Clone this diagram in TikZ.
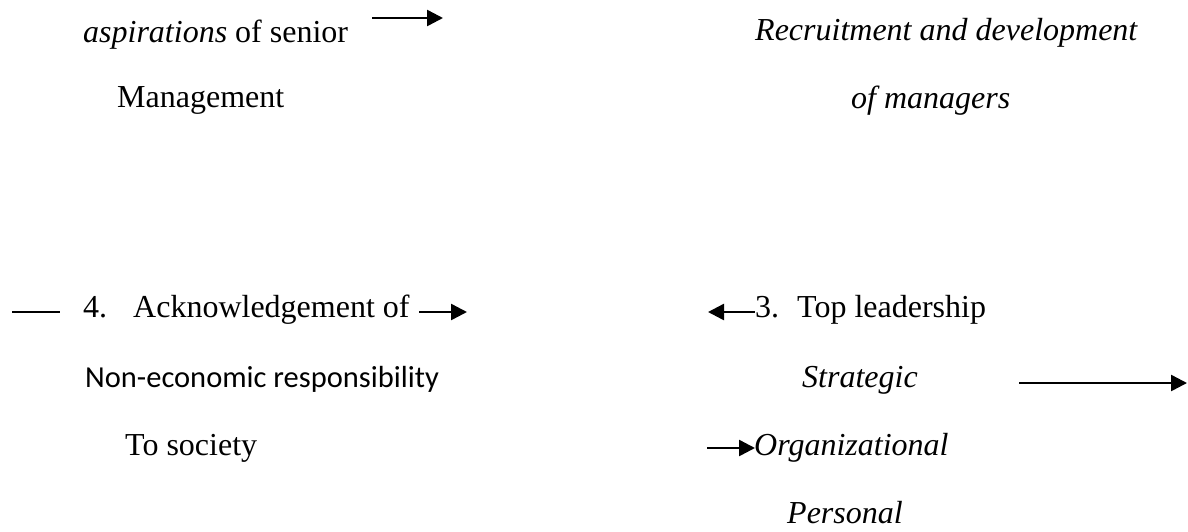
\documentclass[tikz,border=0pt]{standalone}
\usepackage{fontspec}
\setmainfont{Liberation Serif}
\newfontfamily\calib{Carlito}
\usetikzlibrary{arrows.meta}
\begin{document}
\begin{tikzpicture}[x=1pt,y=-1pt,
  txt/.style={anchor=base west, inner sep=0pt, font=\fontsize{32}{38}\selectfont},
  itx/.style={txt, font=\fontsize{32}{38}\selectfont\itshape},
  sans/.style={anchor=base west, inner sep=0pt, font=\calib\fontsize{30.5}{36}\selectfont},
  arr/.style={line width=2.5pt, -{Triangle[length=16pt,width=16pt]}},
  ln/.style={line width=2.5pt}]
\useasboundingbox (0,0) rectangle (1188,531);
% texts
\node[txt] (asp) at (83,42) {\textit{aspirations} of senior};
\node[txt] (mgmt) at (117,107) {Management};
\node[itx] (rec) at (755,40) {Recruitment and development};
\node[itx] (ofm) at (851,108) {of managers};
\node[txt] (n4) at (83,317) {4.};
\node[txt] (ack) at (133,317) {Acknowledgement of};
\node[sans] (noneco) at (85,387) {Non-economic responsibility};
\node[txt] (soc) at (125,455) {To society};
\node[txt] (n3) at (755,317) {3.};
\node[txt] (top) at (797,317) {Top leadership};
\node[itx] (strat) at (802,387) {Strategic};
\node[itx] (org) at (754,455) {Organizational};
\node[itx] (pers) at (787,523) {Personal};
% connector ends
\coordinate (a1s) at (372,18);  \coordinate (a1e) at (443,18);
\coordinate (d4s) at (12,312);  \coordinate (d4e) at (60,312);
\coordinate (a4s) at (419,312); \coordinate (a4e) at (467,312);
\coordinate (a3s) at (755,312); \coordinate (a3e) at (708,312);
\coordinate (ass) at (1019,383); \coordinate (ase) at (1187,383);
\coordinate (aos) at (707,448); \coordinate (aoe) at (755,448);
% connectors
\draw[arr] (a1s) -- (a1e);
\draw[ln]  (d4s) -- (d4e);
\draw[arr] (a4s) -- (a4e);
\draw[arr] (a3s) -- (a3e);
\draw[arr] (ass) -- (ase);
\draw[arr] (aos) -- (aoe);
\end{tikzpicture}
\end{document}
